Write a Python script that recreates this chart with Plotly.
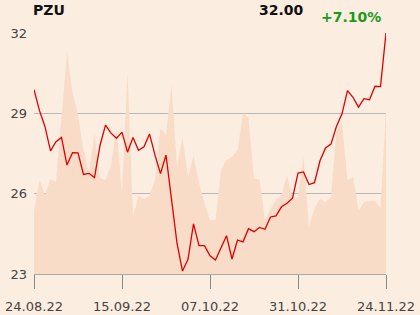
import plotly.graph_objects as go

dates = [
    "24.08.22","25.08.22","26.08.22","29.08.22","30.08.22","31.08.22",
    "01.09.22","02.09.22","05.09.22","06.09.22","07.09.22","08.09.22","09.09.22",
    "12.09.22","13.09.22","14.09.22","15.09.22","16.09.22","19.09.22","20.09.22",
    "21.09.22","22.09.22","23.09.22","26.09.22","27.09.22","28.09.22","29.09.22","30.09.22",
    "03.10.22","04.10.22","05.10.22","06.10.22","07.10.22","10.10.22","11.10.22",
    "12.10.22","13.10.22","14.10.22","17.10.22","18.10.22","19.10.22","20.10.22",
    "21.10.22","24.10.22","25.10.22","26.10.22","27.10.22","28.10.22","31.10.22",
    "02.11.22","03.11.22","04.11.22","07.11.22","08.11.22","09.11.22","10.11.22",
    "14.11.22","15.11.22","16.11.22","17.11.22","18.11.22","21.11.22","22.11.22",
    "23.11.22","24.11.22",
]

price = [
    29.88, 29.1, 28.5, 27.6, 27.94, 28.1, 27.07, 27.53, 27.52, 26.72,
    26.76, 26.6, 27.8, 28.56, 28.26, 28.07, 28.3, 27.55, 28.1, 27.62,
    27.75, 28.23, 27.44, 26.75, 27.44, 25.8, 24.15, 23.11, 23.55, 24.87,
    24.06, 24.06, 23.68, 23.52, 23.95, 24.43, 23.56, 24.27, 24.2, 24.69,
    24.58, 24.74, 24.67, 25.13, 25.17, 25.51, 25.64, 25.83, 26.77, 26.81,
    26.34, 26.41, 27.23, 27.71, 27.85, 28.52, 28.98, 29.85, 29.6, 29.23,
    29.55, 29.51, 30.01, 30.0, 32.0,
]

volume = [
    630, 940, 790, 950, 920, 1540, 2220, 1820, 1590, 1240,
    1020, 1410, 960, 940, 1090, 1460, 810, 2020, 570, 780,
    750, 780, 940, 1460, 1390, 1890, 1080, 1370, 970, 1180,
    910, 710, 540, 540, 1040, 1140, 1170, 1240, 1610, 1560,
    950, 950, 540, 650, 740, 790, 990, 760, 770, 1170,
    470, 660, 750, 720, 770, 1440, 1510, 940, 970, 630,
    720, 730, 730, 660, 1650,
]

tick_labels = ["24.08.22", "15.09.22", "07.10.22", "31.10.22", "24.11.22"]
y_ticks = [23, 26, 29, 32]

ticker = "PZU"
last_text = "32.00"
change_text = "+7.10%"

bg = "#fcede1"
fig = go.Figure()
fig.add_trace(go.Scatter(
    x=dates, y=volume, yaxis="y", mode="lines", line=dict(width=0),
    fill="tozeroy", fillcolor="#f9dcc7", hoverinfo="skip", showlegend=False,
))
fig.add_trace(go.Scatter(
    x=dates, y=price, yaxis="y2", mode="lines", line=dict(color="#dd0000", width=1.3),
    showlegend=False,
))

fig.update_layout(
    width=420, height=315,
    margin=dict(l=34, r=34, t=33, b=41),
    paper_bgcolor=bg, plot_bgcolor=bg,
    font=dict(family="DejaVu Sans", size=13, color="#444444"),
    xaxis=dict(
        type="category", tickmode="array", tickvals=tick_labels, ticktext=tick_labels,
        showgrid=False, showline=True, linecolor="#aaaaaa", linewidth=1,
        ticks="outside", ticklen=14, tickcolor="#888888", tickwidth=1,
        ticklabelstandoff=6,
        range=[0, len(dates) - 1], zeroline=False, fixedrange=True, automargin=False,
    ),
    yaxis=dict(
        range=[0, 2410], visible=False, showgrid=False, zeroline=False,
        fixedrange=True, automargin=False,
    ),
    yaxis2=dict(
        overlaying="y", side="left",
        range=[23, 32], tickmode="array", tickvals=y_ticks,
        showgrid=True, gridcolor="#b8b8b8", gridwidth=1, zeroline=False,
        showline=False, ticks="", ticklabelstandoff=6, fixedrange=True, automargin=False,
    ),
    annotations=[
        dict(text=f"<b>{ticker}</b>", xref="paper", yref="paper", x=-3 / 352, y=(274 - 10) / 241,
             xanchor="left", yanchor="middle", showarrow=False,
             font=dict(size=14, color="#111111")),
        dict(text=f"<b>{last_text}</b>", xref="paper", yref="paper", x=(306 - 34) / 352,
             y=(274 - 10) / 241, xanchor="right", yanchor="middle", showarrow=False,
             font=dict(size=14, color="#111111")),
        dict(text=f"<b>{change_text}</b>", xref="paper", yref="paper", x=(383 - 34) / 352,
             y=(274 - 17) / 241, xanchor="right", yanchor="middle", showarrow=False,
             font=dict(size=14, color="#1a9a1a")),
    ],
)

fig.write_html("out.html")
